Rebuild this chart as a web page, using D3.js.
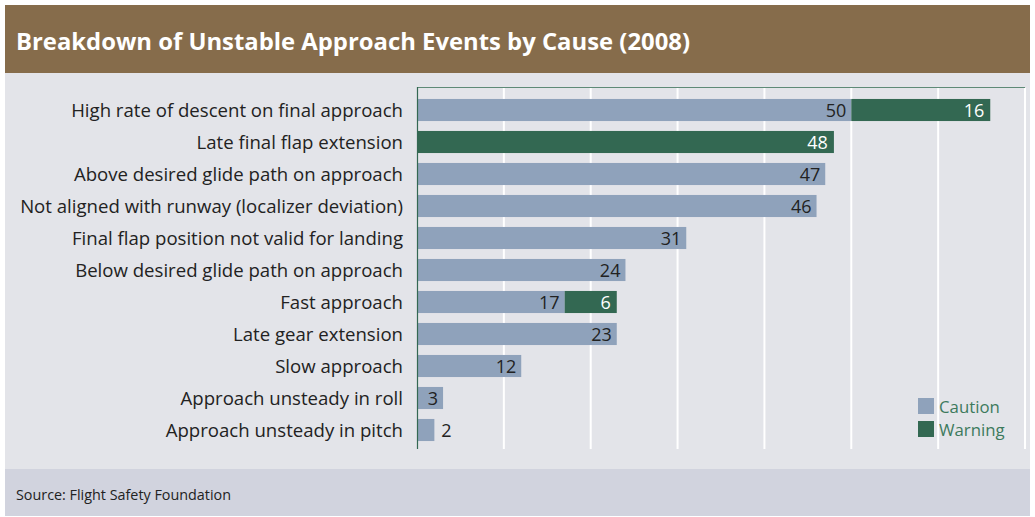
<!DOCTYPE html>
<html><head><meta charset="utf-8">
<script src="https://cdn.jsdelivr.net/npm/d3@7"></script>
<style>
body{margin:0;background:#fff;}
svg{display:block;font-family:"Open Sans","Noto Sans",sans-serif;}
</style></head>
<body>
<svg id="chart" width="1035" height="517"></svg>
<script>
const categories = [
  "High rate of descent on final approach",
  "Late final flap extension",
  "Above desired glide path on approach",
  "Not aligned with runway (localizer deviation)",
  "Final flap position not valid for landing",
  "Below desired glide path on approach",
  "Fast approach",
  "Late gear extension",
  "Slow approach",
  "Approach unsteady in roll",
  "Approach unsteady in pitch"
];
const caution = [50, 0, 47, 46, 31, 24, 17, 23, 12, 3, 2];
const warning = [16, 48, 0, 0, 0, 0, 6, 0, 0, 0, 0];
const seriesNames = ["Caution", "Warning"];
const gridTicks = [10, 20, 30, 40, 50, 60, 70];
const title = "Breakdown of Unstable Approach Events by Cause (2008)";
const source = "Source: Flight Safety Foundation";

const colors = {Caution: "#8fa2bb", Warning: "#336852"};
const svg = d3.select("#chart");

// backgrounds
svg.append("rect").attr("x",5).attr("y",5).attr("width",1025).attr("height",68).attr("fill","#866c4b");
svg.append("rect").attr("x",5).attr("y",73).attr("width",1025).attr("height",396).attr("fill","#e3e4e9");
svg.append("rect").attr("x",5).attr("y",469).attr("width",1025).attr("height",47).attr("fill","#d1d3de");

svg.append("text").attr("x",16).attr("y",50).attr("fill","#fff")
  .attr("font-size",23.5).attr("font-weight","bold").attr("textLength",674).attr("lengthAdjust","spacingAndGlyphs").text(title);
svg.append("text").attr("x",16).attr("y",500).attr("fill","#222")
  .attr("font-size",14).attr("textLength",215).attr("lengthAdjust","spacingAndGlyphs").text(source);

const x = d3.scaleLinear().domain([0,70]).range([417,1025]);
const y = d3.scaleBand().domain(categories).range([94,446]).paddingInner(0.31).paddingOuter(0.155);

// gridlines
svg.append("g").selectAll("line").data(gridTicks).join("line")
  .attr("x1",d=>x(d)).attr("x2",d=>x(d)).attr("y1",88).attr("y2",449)
  .attr("stroke","#fff").attr("stroke-width",2);

// top frame line
svg.append("line").attr("x1",x(0)).attr("x2",x(70)).attr("y1",87.5).attr("y2",87.5)
  .attr("stroke","#5e8a77").attr("stroke-width",1.2);

const rows = categories.map((c,i)=>({c, cau:caution[i], war:warning[i]}));

const g = svg.append("g");
g.selectAll("rect.cau").data(rows.filter(d=>d.cau>0)).join("rect")
  .attr("x",x(0)).attr("y",d=>y(d.c)).attr("width",d=>x(d.cau)-x(0)).attr("height",y.bandwidth())
  .attr("fill",colors.Caution);
g.selectAll("rect.war").data(rows.filter(d=>d.war>0)).join("rect")
  .attr("x",d=>x(d.cau)).attr("y",d=>y(d.c)).attr("width",d=>x(d.cau+d.war)-x(d.cau)).attr("height",y.bandwidth())
  .attr("fill",colors.Warning);

// value labels
const fs = 18;
rows.forEach(d=>{
  const cy = y(d.c)+y.bandwidth()/2+6.5;
  if(d.cau>0){
    const w = x(d.cau)-x(0);
    const inside = w > 20;
    g.append("text").attr("x", inside ? x(d.cau)-5 : x(d.cau)+7).attr("y",cy)
      .attr("text-anchor", inside ? "end":"start").attr("font-size",fs).attr("fill","#222").text(d.cau);
  }
  if(d.war>0){
    g.append("text").attr("x",x(d.cau+d.war)-6).attr("y",cy)
      .attr("text-anchor","end").attr("font-size",fs).attr("fill","#fff").text(d.war);
  }
});

// category labels
svg.append("g").selectAll("text").data(categories).join("text")
  .attr("x",403).attr("y",d=>y(d)+y.bandwidth()/2+6.5).attr("text-anchor","end")
  .attr("font-size",18.6).attr("fill","#222").text(d=>d);

// left axis line
svg.append("line").attr("x1",417.5).attr("x2",417.5).attr("y1",87).attr("y2",449)
  .attr("stroke","#336852").attr("stroke-width",1.2);

// legend
const lg = svg.append("g").attr("transform","translate(918,398)");
seriesNames.forEach((s,i)=>{
  lg.append("rect").attr("x",0).attr("y",i*23).attr("width",16).attr("height",16).attr("fill",colors[s]);
  lg.append("text").attr("x",21).attr("y",i*23+14.5).attr("font-size",16.8).attr("fill","#3d7a5d").text(s);
});
</script>
</body></html>
